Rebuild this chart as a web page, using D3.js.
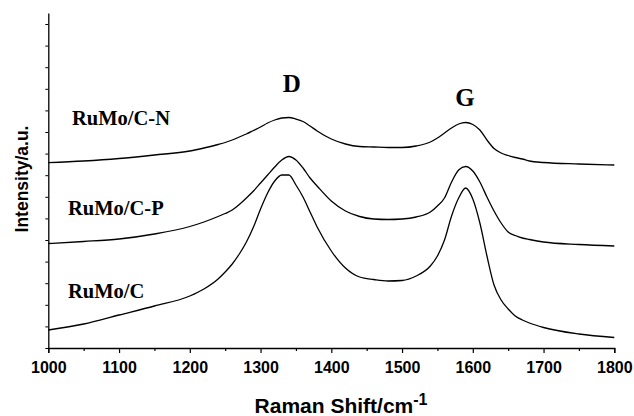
<!DOCTYPE html>
<html><head><meta charset="utf-8">
<script src="https://cdn.jsdelivr.net/npm/d3@7"></script>
<style>body{margin:0;background:#fff}</style>
</head><body>
<svg id="c" width="634" height="416"></svg>
<script>
const wavenumbers = [1000,1050,1100,1150,1200,1220,1240,1250,1260,1270,1280,1290,1300,1310,1320,1330,1340,1350,1360,1370,1380,1400,1420,1440,1460,1480,1500,1520,1540,1550,1560,1570,1580,1590,1600,1610,1620,1630,1640,1650,1660,1670,1680,1700,1750,1800];
// intensities (a.u.)
const seriesN = [185.3,187,189.5,193,197,200,203.5,205.5,208,211,214,217.5,221,225,228,230,230.5,229,226.5,222,217,209,204,201.5,201,200.5,200.5,202,206,210,215,220,224,225.5,223.5,218,208,199.5,195,192.5,190.5,189,187,185.5,184,183];
const seriesP = [104.5,106.5,109,114,121.5,126,131.5,134.5,138,143.5,150,157,165,173,181,188,191.5,188,180,170,162,147,137,131.5,129,128.5,129,131,136,142,150,166,178,181.5,177,166,151,137,125,116,112.5,110,108.5,106,103.5,102];
const seriesC = [18,24,33,42,52,59,69,76,84,94,106,121,139,155,167,173,173,163,151,136,121,97,80,71,68.5,67,67.5,72,82,92,108,132,150,160,149,125,92,63,48,39,32,28,25,20.5,14,10.5];
const seriesLabels = ["RuMo/C-N","RuMo/C-P","RuMo/C"];
const peakLabels = [{name:"D", pos:1344}, {name:"G", pos:1589}];
const xTicks = [1000,1100,1200,1300,1400,1500,1600,1700,1800];
const xMinorTicks = d3.range(1050,1800,100);
const yTicks = d3.range(0, 336, 21.6);

const svg = d3.select("#c");
const x = d3.scaleLinear().domain([1000,1800]).range([48.3,614.3]);
const y = d3.scaleLinear().domain([0,335]).range([348,13]);

const line = d3.line().x((d,i)=>x(wavenumbers[i])).y(d=>y(d)).curve(d3.curveMonotoneX);
[seriesN, seriesP, seriesC].forEach(s=>{
  svg.append("path").attr("d", line(s)).attr("fill","none").attr("stroke","#000").attr("stroke-width",1.3);
});

// x axis
const gx = svg.append("g").attr("transform","translate(0,348)")
  .call(d3.axisBottom(x).tickValues(xTicks).tickSize(5).tickFormat(d3.format("d")));
gx.selectAll("text").attr("font-family","'Liberation Sans', Arial, sans-serif").attr("font-weight","bold").attr("font-size","16px").attr("fill","#000").attr("dy","1.05em");
gx.select(".domain").attr("stroke","#000").attr("stroke-width",1.3);
gx.selectAll(".tick line").attr("stroke","#000").attr("stroke-width",1.2);
svg.append("g").attr("transform","translate(0,348)")
  .call(d3.axisBottom(x).tickValues(xMinorTicks).tickSize(3).tickFormat(""))
  .call(g=>g.select(".domain").remove())
  .selectAll(".tick line").attr("stroke","#000").attr("stroke-width",1.2);

// y axis
const gy = svg.append("g").attr("transform","translate(48.3,0)")
  .call(d3.axisLeft(y).tickValues(yTicks).tickSize(3).tickSizeOuter(0).tickFormat(""));
gy.select(".domain").attr("stroke","#000").attr("stroke-width",1.3);
gy.selectAll(".tick line").attr("stroke","#000").attr("stroke-width",1);

// axis titles
const t = svg.append("text").attr("x",341).attr("y",413).attr("text-anchor","middle")
  .attr("font-family","'Liberation Sans', Arial, sans-serif").attr("font-weight","bold").attr("font-size","21px");
t.append("tspan").text("Raman Shift/cm");
t.append("tspan").attr("font-size","16px").attr("dy","-8").text("-1");

svg.append("text").attr("transform","translate(28,179) rotate(-90)").attr("text-anchor","middle")
  .attr("font-family","'Liberation Sans', Arial, sans-serif").attr("font-weight","bold").attr("font-size","17.5px")
  .text("Intensity/a.u.");

// series labels
const labelPos = [{x:72,y:125},{x:68,y:215},{x:68,y:298}];
seriesLabels.forEach((l,i)=>{
  svg.append("text").attr("x",labelPos[i].x).attr("y",labelPos[i].y)
    .attr("font-family","'Liberation Serif', 'Times New Roman', serif").attr("font-weight","bold").attr("font-size","20.5px").text(l);
});
// peak labels
const peakY = [92,106];
peakLabels.forEach((p,i)=>{
  svg.append("text").attr("x",x(p.pos)).attr("y",peakY[i]).attr("text-anchor","middle")
    .attr("font-family","'Liberation Serif', 'Times New Roman', serif").attr("font-weight","bold").attr("font-size","25px").text(p.name);
});
</script>
</body></html>
